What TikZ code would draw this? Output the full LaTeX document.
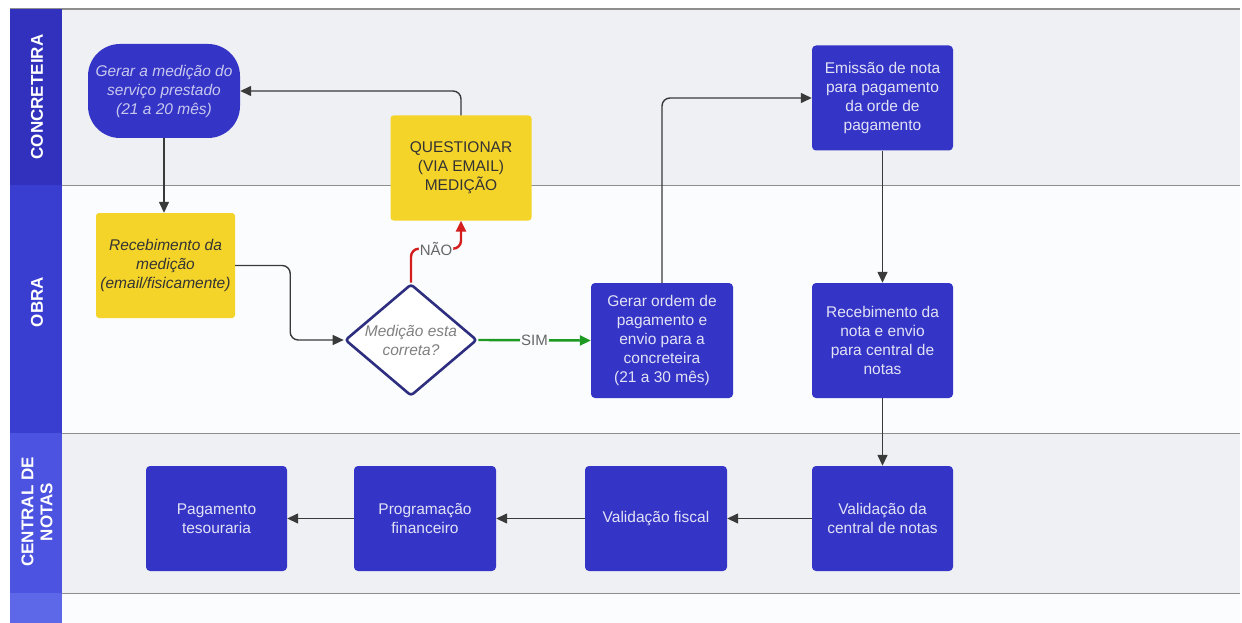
\documentclass[tikz,border=0pt]{standalone}
\usepackage{fontspec}
\setmainfont{Liberation Sans}
\usetikzlibrary{arrows.meta,shapes.geometric}

\definecolor{nodeblue}{HTML}{3434C6}
\definecolor{nodetext}{HTML}{E2E2F6}
\definecolor{hdrA}{HTML}{3131BE}
\definecolor{hdrB}{HTML}{3A3ED0}
\definecolor{hdrC}{HTML}{4C53E0}
\definecolor{hdrD}{HTML}{5C68E8}
\definecolor{notepad}{HTML}{F5D42A}
\definecolor{laneshade}{HTML}{EEF0F3}
\definecolor{laneplain}{HTML}{FBFCFD}
\definecolor{laneline}{HTML}{8E8E8E}
\definecolor{wire}{HTML}{3A3A3A}
\definecolor{nored}{HTML}{D41E1E}
\definecolor{yesgreen}{HTML}{1E9A22}
\definecolor{decision}{HTML}{2E2E80}

\tikzset{
  body/.style={font=\fontsize{15.5}{19}\selectfont},
  task/.style={body, draw=none, fill=nodeblue, text=nodetext, align=center,
    rounded corners=4pt, minimum width=141pt, minimum height=105pt, inner sep=2pt},
  note/.style={body, draw=none, fill=notepad, text=black!80, align=center,
    rounded corners=3pt, minimum width=141pt, minimum height=105pt, inner sep=2pt},
  lanetitle/.style={rotate=90, text=white, align=center,
    font=\fontsize{17}{19}\selectfont\bfseries},
  flow/.style={draw=wire, line width=1.4pt, rounded corners=8pt,
    -{Triangle[length=11pt,width=10pt]}},
  tag/.style={font=\fontsize{15}{17}\selectfont, text=black!60, inner sep=1pt}
}

\begin{document}
\begin{tikzpicture}[x=1pt,y=-1pt]
\useasboundingbox (0,0) rectangle (1242,623);
\fill[white] (0,0) rectangle (1242,623);

% swimlane bands
\fill[laneshade] (62,9) rectangle (1240,185);
\fill[laneplain] (62,185) rectangle (1240,433);
\fill[laneshade] (62,433) rectangle (1240,593);
\fill[laneplain] (62,593) rectangle (1240,623);
\draw[laneline, line width=1.2pt] (10,9) -- (1240,9);
\draw[laneline, line width=1pt] (62,185) -- (1240,185);
\draw[laneline, line width=1pt] (62,433) -- (1240,433);
\draw[laneline, line width=1pt] (62,593) -- (1240,593);

% lane headers
\fill[hdrA] (10,9) rectangle (62,185);
\fill[hdrB] (10,185) rectangle (62,433);
\fill[hdrC] (10,433) rectangle (62,593);
\fill[hdrD] (10,593) rectangle (62,623);
\node[lanetitle] (hConc) at (37,97) {CONCRETEIRA};
\node[lanetitle] (hObra) at (37,302) {OBRA};
\node[lanetitle] (hCent) at (37,512) {CENTRAL DE\\NOTAS};

% CONCRETEIRA lane
\node[task, rounded corners=32pt, minimum width=152pt, minimum height=94pt,
  text=nodetext!85!nodeblue, font=\fontsize{15.5}{19}\selectfont\itshape]
  (gerar) at (164,91) {Gerar a medição do\\serviço prestado\\(21 a 20 mês)};
\node[note] (quest) at (461,168) {QUESTIONAR\\(VIA EMAIL)\\MEDIÇÃO};
\node[task] (emiss) at (882.5,98) {Emissão de nota\\para pagamento\\da orde de\\pagamento};

% OBRA lane
\node[note, minimum width=139pt, font=\fontsize{15.5}{19}\selectfont\itshape]
  (receb) at (165.5,265.5) {Recebimento da\\medição\\(email/fisicamente)};
\node[diamond, draw=decision, line width=2.6pt, fill=white, rounded corners=3pt,
  minimum width=132pt, minimum height=112pt, inner sep=0pt,
  label={[font=\fontsize{15.5}{19}\selectfont\itshape, text=black!50, align=center]center:Medição esta\\correta?}]
  (check) at (411,340) {};
\node[task, minimum width=142pt, minimum height=115pt] (ordem) at (662,340.5)
  {Gerar ordem de\\pagamento e\\envio para a\\concreteira\\(21 a 30 mês)};
\node[task, minimum height=115pt] (rnota) at (882.5,340.5)
  {Recebimento da\\nota e envio\\para central de\\notas};

% CENTRAL DE NOTAS lane
\node[task] (vcent) at (882.5,518.5) {Validação da\\central de notas};
\node[task, minimum width=142pt] (vfisc) at (656,518.5) {Validação fiscal};
\node[task, minimum width=142pt] (progr) at (425,518.5) {Programação\\financeiro};
\node[task] (pagto) at (216.5,518.5) {Pagamento\\tesouraria};

% connectors
\draw[flow] (gerar.south) -- (gerar.south |- receb.north);
\draw[flow] (receb.east) -- ++(55,0) |- (check.west);
\draw[flow, draw=nored, line width=2.4pt] (check.north) -- ++(0,-34)
  -| node[tag, pos=0.25, fill=laneplain] {NÃO} (quest.south);
\draw[flow] (quest.north) |- (gerar.east);
\draw[flow, draw=yesgreen, line width=2.4pt] (check.east) --
  node[tag, pos=0.5, fill=laneplain] {SIM} (ordem.west);
\draw[flow] (ordem.north) |- (emiss.west);
\draw[flow] (emiss.south) -- (rnota.north);
\draw[flow] (rnota.south) -- (vcent.north);
\draw[flow] (vcent.west) -- (vfisc.east);
\draw[flow] (vfisc.west) -- (progr.east);
\draw[flow] (progr.west) -- (pagto.east);
\end{tikzpicture}
\end{document}
